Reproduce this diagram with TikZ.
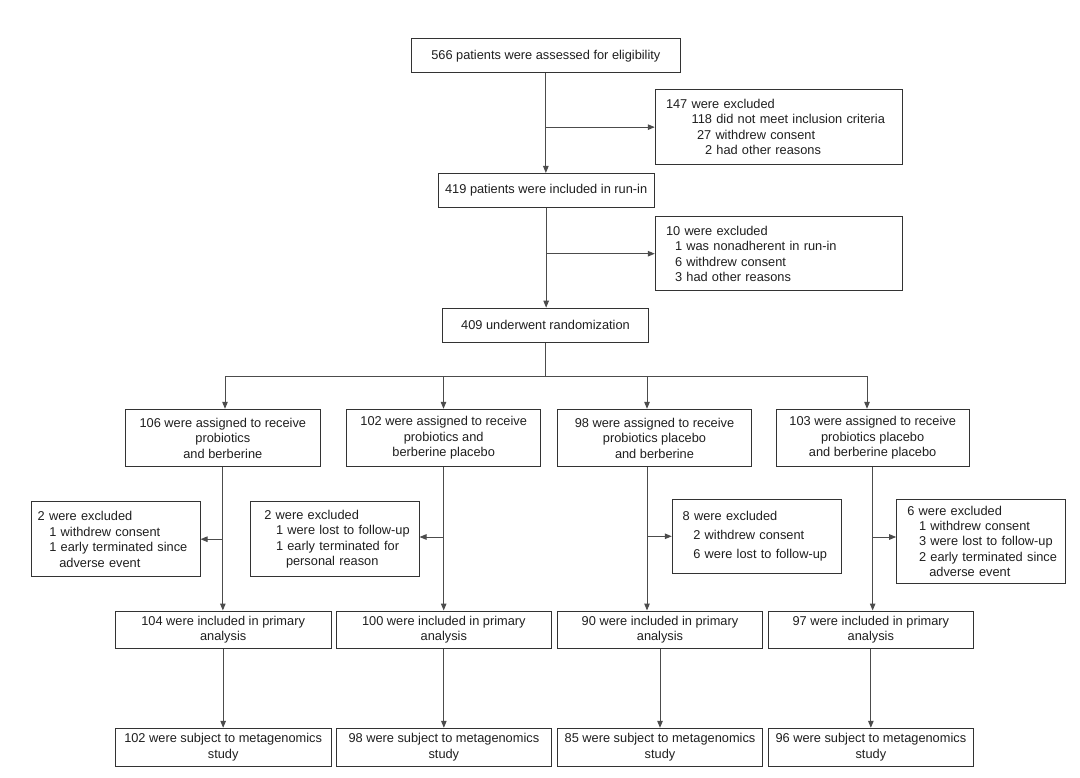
\documentclass[tikz,border=0pt]{standalone}
\usepackage{fontspec}
\setmainfont{Liberation Sans}
\usetikzlibrary{arrows.meta}
\begin{document}
\begin{tikzpicture}[x=1pt,y=-1pt,
  every node/.style={font=\fontsize{12.8}{15.5}\selectfont, text=black!88},
  box/.style={draw=black!80, line width=1pt, inner sep=0pt, align=center},
  exbox/.style={draw=black!80, line width=1pt, inner sep=0pt, align=left},
  conn/.style={draw=black!70, line width=1pt},
  arr/.style={conn, -{Triangle[length=7pt,width=5.5pt]}},
]
\useasboundingbox[fill=white] (0,0) rectangle (1080,778);

% top chain
\node[box, minimum width=269.7pt, minimum height=34pt] (B1) at (545.85,56) {566 patients were assessed for eligibility};
\node[box, minimum width=215.7pt, minimum height=34.3pt] (B2) at (546.15,190.6) {419 patients were included in run-in};
\node[box, minimum width=205.6pt, minimum height=34.3pt] (B3) at (545.5,325.3) {409 underwent randomization};

\node[exbox, minimum height=75.7pt, text width=247.4pt] (X1) at (779,127.15)
 {\hspace*{10.7pt}147 were excluded\\
  \hspace*{36.4pt}118 did not meet inclusion criteria\\
  \hspace*{41.7pt}27 withdrew consent\\
  \hspace*{49.7pt}2 had other reasons};
\node[exbox, minimum height=74pt, text width=247.4pt] (X2) at (779,253.7)
 {\hspace*{10.7pt}10 were excluded\\
  \hspace*{19.7pt}1 was nonadherent in run-in\\
  \hspace*{19.7pt}6 withdrew consent\\
  \hspace*{19.7pt}3 had other reasons};

% groups
\node[box, minimum width=194.3pt, minimum height=57.4pt] (G1) at (222.85,438) {106 were assigned to receive\\probiotics\\and berberine};
\node[box, minimum width=194pt, minimum height=57.4pt] (G2) at (443.7,438) {102 were assigned to receive\\probiotics and\\berberine placebo};
\node[box, minimum width=194.4pt, minimum height=57.4pt] (G3) at (654.5,438) {98 were assigned to receive\\probiotics placebo\\and berberine};
\node[box, minimum width=193.3pt, minimum height=57.4pt] (G4) at (872.65,438) {103 were assigned to receive\\probiotics placebo\\and berberine placebo};

% exclusions after allocation
\node[exbox, minimum height=75pt, text width=168.3pt] (E1) at (115.85,539.2)
 {\hspace*{6pt}2 were excluded\\
  \hspace*{17.6pt}1 withdrew consent\\
  \hspace*{17.6pt}1 early terminated since\\
  \hspace*{27.6pt}adverse event};
\node[exbox, minimum height=75pt, text width=168.3pt] (E2) at (334.85,539.2)
 {\hspace*{13.6pt}2 were excluded\\
  \hspace*{25.3pt}1 were lost to follow-up\\
  \hspace*{25.3pt}1 early terminated for\\
  \hspace*{35.3pt}personal reason};
\node[exbox, minimum height=74pt, text width=168.7pt,
      font=\fontsize{12.8}{19}\selectfont] (E3) at (756.65,536.3)
 {\hspace*{10.4pt}8 were excluded\\
  \hspace*{21pt}2 withdrew consent\\
  \hspace*{21pt}6 were lost to follow-up};
\node[exbox, minimum height=84pt, text width=169pt,
      font=\fontsize{12.8}{15.4}\selectfont] (E4) at (981.2,541.3)
 {\hspace*{10.6pt}6 were excluded\\
  \hspace*{22.3pt}1 withdrew consent\\
  \hspace*{22.3pt}3 were lost to follow-up\\
  \hspace*{22.3pt}2 early terminated since\\
  \hspace*{32.6pt}adverse event};

% primary analysis
\tikzset{pbox/.style={box, minimum height=37.7pt, font=\fontsize{12.8}{14.5}\selectfont}}
\node[pbox, minimum width=215.7pt] (P1) at (223.15,629.85) {104 were included in primary\\analysis};
\node[pbox, minimum width=215.7pt] (P2) at (443.85,629.85) {100 were included in primary\\analysis};
\node[pbox, minimum width=205.4pt] (P3) at (660,629.85) {90 were included in primary\\analysis};
\node[pbox, minimum width=204.3pt] (P4) at (870.85,629.85) {97 were included in primary\\analysis};

% metagenomics
\tikzset{mbox/.style={box, minimum height=37.7pt, font=\fontsize{12.8}{15.3}\selectfont}}
\node[mbox, minimum width=215.7pt] (M1) at (223.15,747.15) {102 were subject to metagenomics\\study};
\node[mbox, minimum width=215.7pt] (M2) at (443.85,747.15) {98 were subject to metagenomics\\study};
\node[mbox, minimum width=205.4pt] (M3) at (660,747.15) {85 were subject to metagenomics\\study};
\node[mbox, minimum width=204.3pt] (M4) at (870.85,747.15) {96 were subject to metagenomics\\study};

% connectors: top chain
\draw[arr] (B1.south) -- (B1.south |- B2.north);
\draw[arr] (B1.south |- X1.west) -- (X1.west);
\draw[arr] (B2.south) -- (B2.south |- B3.north);
\draw[arr] (B2.south |- X2.west) -- (X2.west);

% distribution
\coordinate (hy) at (0,376);
\coordinate (c1) at (225,376);
\coordinate (c2) at (443.5,376);
\coordinate (c3) at (647,376);
\coordinate (c4) at (867,376);
\draw[conn] (B3.south) -- (B3.south |- hy);
\draw[conn] (c1) -- (c4);
\draw[arr] (c1) -- (c1 |- G1.north);
\draw[arr] (c2) -- (c2 |- G2.north);
\draw[arr] (c3) -- (c3 |- G3.north);
\draw[arr] (c4) -- (c4 |- G4.north);

% columns
\coordinate (r) at (0,537);
\coordinate (k3) at (647,0);
\draw[arr] (G1.south) -- (G1.south |- P1.north);
\draw[arr] (G1.south |- E1.east) -- (E1.east);
\draw[arr] (G2.south) -- (G2.south |- P2.north);
\draw[arr] (G2.south |- r) -- (E2.east |- r);
\draw[arr] (k3 |- G3.south) -- (k3 |- P3.north);
\draw[arr] (k3 |- E3.west) -- (E3.west);
\draw[arr] (G4.south) -- (G4.south |- P4.north);
\draw[arr] (G4.south |- r) -- (E4.west |- r);

\draw[arr] (P1) -- (M1);
\draw[arr] (P2) -- (M2);
\draw[arr] (P3) -- (M3);
\draw[arr] (P4) -- (M4);
\end{tikzpicture}
\end{document}
